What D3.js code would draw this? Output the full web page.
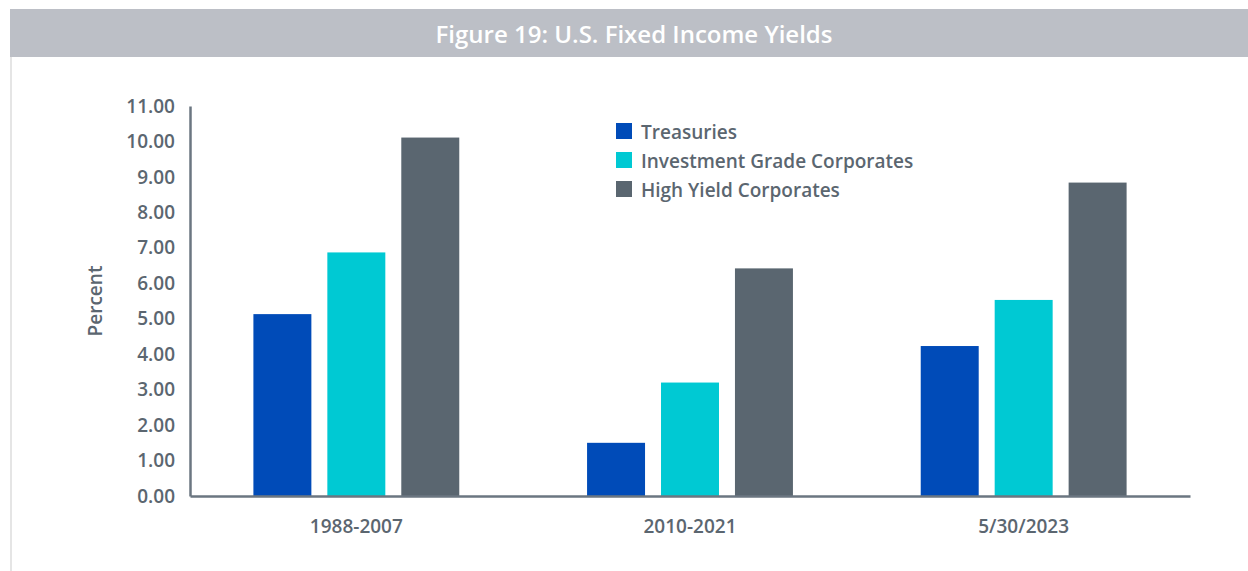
<!DOCTYPE html>
<html>
<head>
<meta charset="utf-8">
<script src="https://cdn.jsdelivr.net/npm/d3@7"></script>
<style>
  body { margin: 0; background: #fff; }
  svg { display: block; font-family: "Open Sans", "Noto Sans", sans-serif; }
</style>
</head>
<body>
<svg id="chart" width="1248" height="571"></svg>
<script>
const title = 'Figure 19: U.S. Fixed Income Yields';
const categories = ['1988-2007', '2010-2021', '5/30/2023'];
const seriesNames = ['Treasuries', 'Investment Grade Corporates', 'High Yield Corporates'];
const treasuries = [5.13, 1.50, 4.23];
const investmentGrade = [6.87, 3.20, 5.53];
const highYield = [10.11, 6.42, 8.84];
const yTicks = [0, 1, 2, 3, 4, 5, 6, 7, 8, 9, 10, 11];
const colors = ['#004bb8', '#00c9d3', '#5a6670'];

const series = [treasuries, investmentGrade, highYield];
const textColor = '#5b6670';

const svg = d3.select('#chart');

// header band
svg.append('rect')
    .attr('x', 10).attr('y', 9)
    .attr('width', 1238).attr('height', 48)
    .attr('fill', '#bcbfc6');

svg.append('text')
    .attr('x', 634).attr('y', 33)
    .attr('text-anchor', 'middle')
    .attr('dominant-baseline', 'central')
    .attr('fill', '#fff')
    .style('font-size', '24px')
    .style('font-weight', 600)
    .text(title);

// left border
svg.append('line')
    .attr('x1', 11).attr('x2', 11)
    .attr('y1', 57).attr('y2', 571)
    .attr('stroke', '#dcdcdc')
    .attr('stroke-width', 1.5);

const margin = {left: 190, right: 1190, top: 106, bottom: 496};

const x0 = d3.scaleBand()
    .domain(categories)
    .range([margin.left, margin.right])
    .paddingInner(0.383)
    .paddingOuter(0.19);

const x1 = d3.scaleBand()
    .domain(d3.range(seriesNames.length))
    .range([0, x0.bandwidth()])
    .paddingInner(0.216);

const y = d3.scaleLinear()
    .domain([0, 11])
    .range([margin.bottom, margin.top]);

// bars
const groups = svg.append('g')
    .selectAll('g')
    .data(categories)
    .join('g')
    .attr('transform', d => `translate(${x0(d)},0)`);

groups.selectAll('rect')
    .data((d, i) => series.map((s, j) => ({j: j, v: s[i]})))
    .join('rect')
    .attr('x', d => x1(d.j))
    .attr('y', d => y(d.v))
    .attr('width', x1.bandwidth())
    .attr('height', d => y(0) - y(d.v))
    .attr('fill', d => colors[d.j]);

// y axis
const yAxis = svg.append('g')
    .attr('transform', `translate(${margin.left},0)`)
    .call(d3.axisLeft(y).tickValues(yTicks).tickFormat(d3.format('.2f')).tickSize(0).tickPadding(15))
    .attr('font-family', null)
    .attr('font-size', null);

yAxis.select('.domain')
    .attr('stroke', '#6b7681')
    .attr('stroke-width', 2.5);

yAxis.selectAll('text')
    .attr('fill', textColor)
    .style('font-size', '19px')
    .style('font-weight', 600);

// x axis
const xAxis = svg.append('g')
    .attr('transform', `translate(0,${margin.bottom})`)
    .call(d3.axisBottom(x0).tickSize(0).tickPadding(24))
    .attr('font-family', null)
    .attr('font-size', null);

xAxis.select('.domain')
    .attr('stroke', '#6b7681')
    .attr('stroke-width', 2.5);

xAxis.selectAll('text')
    .attr('fill', textColor)
    .style('font-size', '19px')
    .style('font-weight', 600);

// y label
svg.append('text')
    .attr('transform', 'translate(95,301) rotate(-90)')
    .attr('text-anchor', 'middle')
    .attr('dominant-baseline', 'central')
    .attr('fill', textColor)
    .style('font-size', '19px')
    .style('font-weight', 600)
    .text('Percent');

// legend
const legend = svg.append('g')
    .attr('transform', 'translate(616,123)');

const item = legend.selectAll('g')
    .data(seriesNames)
    .join('g')
    .attr('transform', (d, i) => `translate(0,${i * 29})`);

item.append('rect')
    .attr('width', 16).attr('height', 16)
    .attr('fill', (d, i) => colors[i]);

item.append('text')
    .attr('x', 25).attr('y', 9)
    .attr('dominant-baseline', 'central')
    .attr('fill', textColor)
    .style('font-size', '19px')
    .style('font-weight', 600)
    .text(d => d);
</script>
</body>
</html>
